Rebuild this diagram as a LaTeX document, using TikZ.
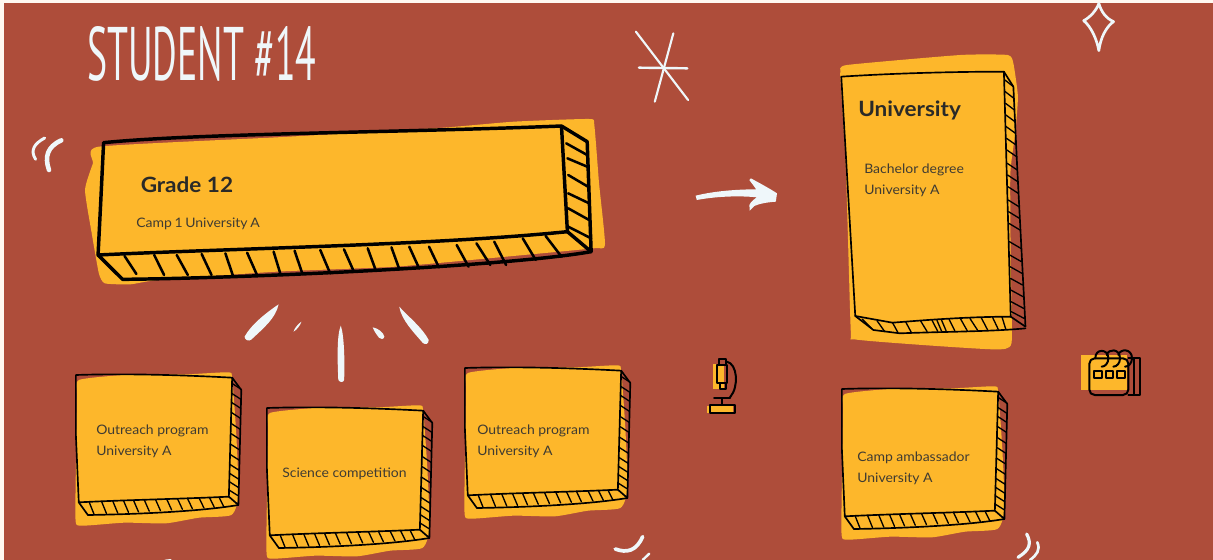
\documentclass[tikz,border=0pt]{standalone}
\usepackage{graphicx}
\usepackage{fontspec}
\setmainfont{Lato}
\newfontfamily\titlefont{PT Sans}
\newfontfamily\bodyfont[FakeStretch=1.07]{Lato}
\newfontfamily\headfont[FakeStretch=1.07,UprightFont=* Bold]{Lato}
\definecolor{bgbrown}{HTML}{AE4D3A}
\definecolor{ymain}{HTML}{FDB72B}
\definecolor{offw}{HTML}{FFF8F0}
\definecolor{chalk}{HTML}{EFF7FA}
\definecolor{inkt}{HTML}{3F3B32}
\definecolor{inkh}{HTML}{2A2A28}
\tikzset{
  z1/.style={x=.29656pt,y=-.25pt},
  z2/.style={x=.28367pt,y=-.25pt,shift={(465pt,0pt)}},
  z3/.style={x=.31095pt,y=-.25pt},
  z4/.style={x=.25pt,y=-.25pt,shift={(510pt,-255pt)}},
  blob/.style={fill=ymain,draw=none},
  inkbig/.style={draw=black,line width=2.6pt,line join=round,line cap=round},
  inkbighatch/.style={draw=black,line width=1.9pt,line cap=round},
  inkthin/.style={draw=black,line width=1.25pt,line join=round,line cap=round},
  inkhatch/.style={draw=black,line width=1pt,line cap=round},
  chalkline/.style={draw=chalk,line cap=round,line join=round},
  chalkfill/.style={fill=chalk,draw=none},
  bodytext/.style={anchor=base west,inner sep=0pt,text=inkt,font=\bodyfont\fontsize{9.8pt}{11pt}\selectfont},
  headtext/.style={anchor=base west,inner sep=0pt,text=inkh,font=\headfont\fontsize{15.8pt}{18pt}\selectfont},
  icon/.style={draw=black,line width=1.5pt,line join=round,line cap=round},
}
\newcommand{\sqbox}[2]{%
  \pgfmathsetmacro\sx{#1*.75}\pgfmathsetmacro\sy{-221.25-#2*.75}%
  \begin{scope}[z3,shift={(\sx pt,\sy pt)}]
    \fill[blob] plot[smooth cycle,tension=.35] coordinates {(190,255) (300,240) (450,238) (550,232) (560,250) (570,420) (575,600) (558,660) (480,668) (400,685) (300,683) (195,692) (182,670) (184,450) (186,300)};
    \draw[inkthin] (183,240) .. controls (300,235) and (440,240) .. (560,248) -- (552,605) .. controls (430,612) and (300,615) .. (190,622) -- (183,420) -- cycle;
    \draw[inkthin] (560,248) -- (582,285) -- (575,630) -- (552,605);
    \draw[inkthin] (190,622) -- (212,660) .. controls (320,658) and (480,650) .. (575,630);
    \foreach \t in {215,245,272,298,322,348,375,402,428,452,480,505,528}{
      \pgfmathsetmacro\ya{622-(\t-190)*0.047}
      \pgfmathsetmacro\yb{660-(\t-190)*0.072}
      \draw[inkhatch] (\t,\ya) -- ({\t+12},\yb);
    }
    \foreach \y in {265,295,322,352,385,415,447,478,508,535,560,585}{
      \pgfmathsetmacro\xa{560-(\y-248)*0.0224}
      \pgfmathsetmacro\xb{582-(\y-248)*0.0196}
      \draw[inkhatch] (\xa,\y) -- (\xb,{\y+18});
    }
  \end{scope}}
\begin{document}
\begin{tikzpicture}[x=.75pt,y=-.75pt]
\useasboundingbox (0,0) rectangle (1213,560);
\clip (0,0) rectangle (1213,560);
\fill[offw] (0,0) rectangle (1213,560);
\fill[bgbrown] (4,3) rectangle (1213,560);

% title
\node[anchor=south west,inner sep=0pt,text=chalk] (title) at (87,82) {\resizebox{171.75pt}{40.5pt}{\titlefont STUDENT \#14}};

% Grade 12 box
\begin{scope}[z1]
  \fill[blob] plot[smooth cycle,tension=.3] coordinates {(250,440) (700,412) (1100,385) (1300,365) (1490,357) (1503,375) (1515,550) (1530,735) (1500,745) (1280,770) (1000,800) (700,815) (400,840) (330,853) (265,850) (250,820) (232,700) (215,570) (235,490)};
  \draw[inkbig] (262,428) .. controls (500,400) and (1000,398) .. (1420,378) -- (1435,695) .. controls (1100,735) and (600,745) .. (248,765) -- (255,600) -- cycle;
  \draw[inkbig] (1420,378) -- (1485,425) -- (1495,755) -- (1435,695);
  \draw[inkbig] (248,765) -- (310,838) .. controls (600,835) and (1280,800) .. (1495,755);
  \foreach \a/\b/\c/\d in {315/768/345/822,390/765/415/825,447/765/475/825,510/762/535/825,570/760/590/830,625/758/650/825,692/755/710/825,745/752/765/822,810/750/835/820,870/748/895/815,930/745/950/810,990/742/1010/808,1035/740/1060/805,1085/740/1110/802,1155/735/1185/800,1205/730/1240/795,1250/725/1280/795,1322/715/1355/780,1380/708/1420/770}{
    \draw[inkbighatch] (\a,\b) -- (\c,\d);
  }
  \foreach \a/\b/\c/\d in {1432/430/1485/465,1435/475/1485/500,1437/525/1487/560,1437/580/1490/610,1437/625/1490/660,1437/680/1495/715}{
    \draw[inkbighatch] (\a,\b) -- (\c,\d);
  }
\end{scope}

% University box
\begin{scope}[z2]
  \fill[blob] plot[smooth cycle,tension=.3] coordinates {(583,215) (600,195) (900,165) (1025,165) (1040,190) (1052,290) (1045,400) (1032,520) (1033,800) (1035,1030) (990,1048) (800,1035) (620,1018) (610,990) (597,500) (583,240)};
  \draw[inkthin] (585,230) .. controls (720,220) and (880,215) .. (1015,215) -- (1033,950) .. controls (900,950) and (760,965) .. (720,968) -- (622,948) -- cycle;
  \draw[inkthin] (1015,215) -- (1040,260) -- (1050,500) -- (1072,980) -- (1033,950);
  \draw[inkthin] (622,948) -- (670,990) -- (740,1000) .. controls (850,995) and (980,995) .. (1072,985);
  \foreach \y in {240,275,310,345,380,415,450,490,525,560,600,635,670,725,765,800,835,870,905,935}{
    \pgfmathsetmacro\xa{1017+(\y-215)*0.0245}
    \pgfmathsetmacro\xb{1040+(\y-240)*0.0405}
    \draw[inkhatch] (\xa,\y) -- (\xb,{\y+20});
  }
  \foreach \a/\b/\c/\d in {640/957/665/985,680/963/700/995,720/967/735/998,755/965/770/997,795/963/812/995,825/961/840/994,838/961/850/993,850/960/862/992,870/958/885/992,900/956/918/992,925/955/945/990,955/953/972/990,985/952/1000/988,1010/951/1020/988}{
    \draw[inkhatch] (\a,\b) -- (\c,\d);
  }
\end{scope}

% small boxes
\sqbox{0}{0}
\sqbox{191}{33}
\sqbox{389}{-7}
\sqbox{766}{14}

% texts
\node[headtext] (grade) at (140.5,192) {Grade 12};
\node[bodytext] (camp1) at (136,227) {Camp\kern2pt 1\kern2pt University\kern2pt A};
\node[headtext] (univ) at (858,117) {University};
\node[bodytext] (bach) at (864,173) {Bachelor degree};
\node[bodytext] (bachu) at (864,194) {University A};
\node[bodytext] (out1) at (96,434) {Outreach program};
\node[bodytext] (out1u) at (96,455) {University A};
\node[bodytext] (sci) at (282,477) {Science competition};
\node[bodytext] (out2) at (477,434) {Outreach program};
\node[bodytext] (out2u) at (477,455) {University A};
\node[bodytext] (amb) at (857,461) {Camp ambassador};
\node[bodytext] (ambu) at (857,482) {University A};

% quote marks
\begin{scope}[z1]
  \draw[chalkline,line width=2.2pt] (113,414) .. controls (88,430) and (75,450) .. (90,478);
  \draw[chalkline,line width=3.4pt] (155,421) .. controls (120,440) and (112,470) .. (124,510);
\end{scope}

% star, diamond, arrow
\begin{scope}[z2]
  \draw[chalkline,line width=1.6pt] (42,95) -- (180,300);
  \draw[chalkline,line width=1.6pt] (141,100) -- (92,305);
  \draw[chalkline,line width=1.8pt] (50,203) -- (178,205);
  \draw[chalkline,line width=2pt] (1266,10) .. controls (1272,35) and (1285,55) .. (1305,65) .. controls (1285,80) and (1270,115) .. (1266,152) .. controls (1260,115) and (1245,80) .. (1226,62) .. controls (1245,50) and (1260,30) .. (1266,10) -- cycle;
  \fill[chalkfill] (200,587) .. controls (250,573) and (310,568) .. (360,568) .. controls (355,558) and (348,550) .. (342,540) -- (346,535) .. controls (370,550) and (395,565) .. (415,580) -- (412,605) .. controls (390,607) and (370,610) .. (355,618) -- (343,632) -- (342,615) .. controls (346,605) and (355,597) .. (362,592) .. controls (310,586) and (250,590) .. (203,600) -- cycle;
\end{scope}

% rays and bottom marks
\begin{scope}[z3,shift={(0pt,-221.25pt)}]
  \fill[chalkfill] (672,28) .. controls (640,55) and (605,90) .. (590,125) .. controls (590,135) and (600,140) .. (606,134) .. controls (635,100) and (665,70) .. (672,28) -- cycle;
  \fill[chalkfill] (727,80) .. controls (718,88) and (710,100) .. (708,110) .. controls (716,104) and (724,92) .. (727,80) -- cycle;
  \fill[chalkfill] (822,92) .. controls (812,120) and (814,200) .. (816,255) .. controls (820,263) and (828,263) .. (830,255) .. controls (832,200) and (830,120) .. (822,92) -- cycle;
  \fill[chalkfill] (899,97) .. controls (912,100) and (925,112) .. (927,125) .. controls (925,135) and (918,133) .. (914,128) .. controls (908,118) and (902,108) .. (899,97) -- cycle;
  \fill[chalkfill] (963,35) .. controls (985,65) and (1020,100) .. (1034,135) .. controls (1034,148) and (1026,150) .. (1020,144) .. controls (1000,115) and (968,75) .. (963,35) -- cycle;
  \draw[chalkline,line width=2.8pt] (1484,762) .. controls (1512,775) and (1535,768) .. (1550,725);
  \draw[chalkline,line width=1.8pt] (1566,776) -- (1550,795);
  \draw[chalkline,line width=1pt] (398,796) -- (412,794);
\end{scope}

% bottom right marks, microscope, calendar
\begin{scope}[z4]
  \draw[chalkline,line width=2.4pt] (1040,582) .. controls (1055,610) and (1050,630) .. (1014,652);
  \draw[chalkline,line width=2pt] (1072,607) .. controls (1082,630) and (1070,645) .. (1050,660);
  % microscope
  \fill[ymain] (98,72) rectangle (132,148);
  \fill[ymain] (80,197) rectangle (160,220);
  \draw[icon] (110,75) rectangle (140,130);
  \draw[icon] (118,75) -- (118,58) -- (138,58) -- (138,75);
  \draw[icon] (120,130) -- (120,148) -- (138,148) -- (138,130);
  \draw[icon] (140,65) .. controls (172,70) and (178,140) .. (150,172);
  \draw[icon] (102,175) -- (150,175);
  \draw[icon] (125,175) -- (125,195);
  \draw[icon] (90,195) rectangle (165,220);
  % calendar
  \fill[ymain] (1203,45) rectangle (1340,150);
  \draw[icon,rounded corners=4pt] (1228,55) -- (1228,165) -- (1345,165) -- (1345,55) -- cycle;
  \draw[icon] (1345,55) -- (1380,55) -- (1380,165) -- (1345,165);
  \draw[icon] (1362,55) -- (1362,165);
  \draw[icon] (1246,55) .. controls (1245,25) and (1285,25) .. (1285,55) .. controls (1285,70) and (1275,80) .. (1265,80);
  \draw[icon] (1280,45) .. controls (1285,25) and (1320,25) .. (1320,55) .. controls (1320,70) and (1310,80) .. (1300,80);
  \draw[icon] (1315,45) .. controls (1320,25) and (1356,25) .. (1356,55) .. controls (1356,70) and (1345,80) .. (1335,80);
  \draw[icon] (1242,93) rectangle (1265,113);
  \draw[icon] (1277,93) rectangle (1298,113);
  \draw[icon] (1312,93) rectangle (1335,113);
\end{scope}
\end{tikzpicture}
\end{document}
